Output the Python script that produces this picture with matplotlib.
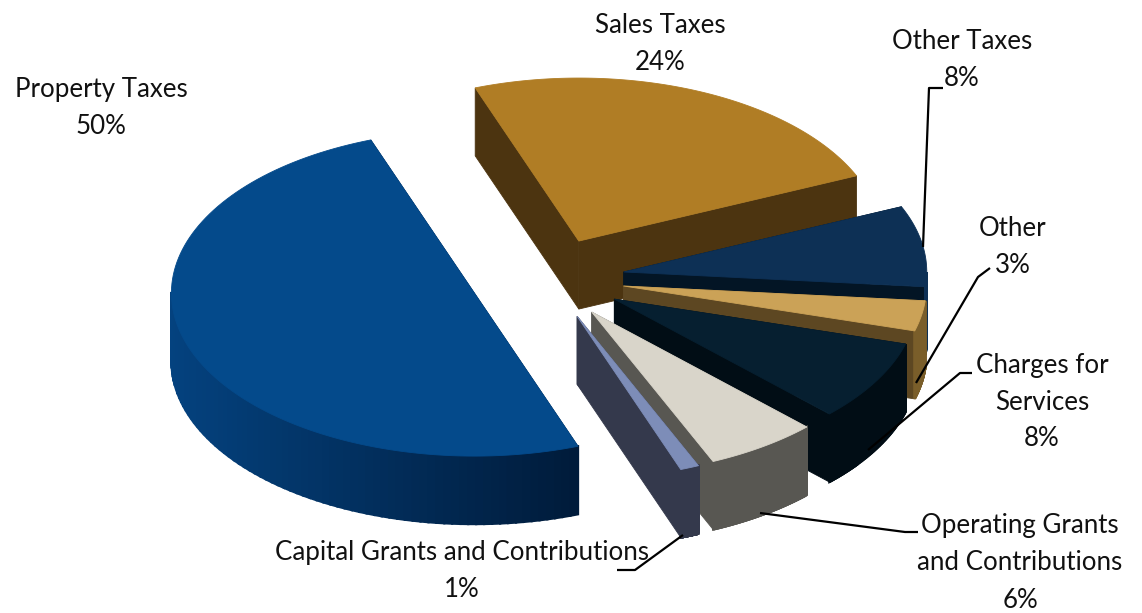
import matplotlib
matplotlib.use('Agg')
import matplotlib.pyplot as plt
from matplotlib.colors import to_rgb
from matplotlib.patches import Polygon
import numpy as np

# chart data
categories = ['Property Taxes', 'Sales Taxes', 'Other Taxes', 'Other',
              'Charges for\nServices', 'Operating Grants\nand Contributions',
              'Capital Grants and Contributions']
values = [50, 24, 8, 3, 8, 6, 1]

# colours: top face, cut face, rim at the left and at the right
top_colors = ['#044A8B', '#B07D25', '#0D3055', '#CBA257', '#061F30', '#D9D5CA', '#7D8DB8']
cut_colors = ['#001D3D', '#4C3410', '#031525', '#5D4722', '#010D15', '#585752', '#34394C']
rim_left = ['#04427F', '#4C3410', '#031525', '#7A5E2A', '#010D15', '#585752', '#34394C']
rim_right = ['#001B3A', '#4C3410', '#0D3055', '#7A5E2A', '#010D15', '#585752', '#34394C']

# pie layout, in pixels
cx, cy = 549, 278.5
rx, ry = 303, 163
explode = [0.262, 0.25, 0.25, 0.25, 0.25, 0.25, 0.25]
depth = 68
start_angle = 110

# label centres, in pixels
label_pos = [(101, 108), (660, 44), (962, 60), (1013, 247), (1042, 402), (1020, 563), (462, 571)]
leaders = [
    ([923, 929, 943], [247, 88, 88]),
    ([916, 978, 990], [383, 277, 268]),
    ([868, 960, 972], [450, 373, 373]),
    ([760, 905, 918], [513, 532, 532]),
    ([683, 635, 617], [535, 570, 570]),
]


def ellipse_points(x0, y0, angles):
    rad = np.radians(angles)
    return np.column_stack([x0 + rx * np.cos(rad), y0 - ry * np.sin(rad)])


def draw_poly(ax, pts, color, zorder, lw=0.6):
    ax.add_patch(Polygon(pts, closed=True, facecolor=color, edgecolor=color, lw=lw, zorder=zorder))


def draw_slice(ax, a0, a1, i, zorder):
    mid = np.radians((a0 + a1) / 2)
    x0 = cx + explode[i] * rx * np.cos(mid)
    y0 = cy - explode[i] * ry * np.sin(mid)
    angles = np.linspace(a0, a1, 120)
    edge = ellipse_points(x0, y0, angles)
    down = np.array([0, depth])
    apex = np.array([x0, y0])

    # the two cut faces first, then the rim, then the top
    for p in (edge[0], edge[-1]):
        draw_poly(ax, [apex, p, p + down, apex + down], cut_colors[i], zorder)

    left, right = np.array(to_rgb(rim_left[i])), np.array(to_rgb(rim_right[i]))
    xmin, xmax = cx - rx * 1.25, cx + rx * 1.25
    if i == 0:
        xmax = edge[-1, 0]
        xmin = edge[:, 0].min()
    for k in range(len(angles) - 1):
        if np.sin(np.radians((angles[k] + angles[k + 1]) / 2)) > 0:
            continue
        p, q = edge[k], edge[k + 1]
        f = np.clip(((p[0] + q[0]) / 2 - xmin) / (xmax - xmin), 0, 1)
        draw_poly(ax, [p, q, q + down, p + down], left + (right - left) * f, zorder, lw=1.6)

    draw_poly(ax, np.vstack([apex, edge]), top_colors[i], zorder)


def main() -> None:
    fig = plt.figure(figsize=(11.42, 6.13), dpi=100)
    ax = fig.add_axes([0, 0, 1, 1])
    ax.set_xlim(0, 1142)
    ax.set_ylim(613, 0)
    ax.axis('off')

    shares = np.array(values) / sum(values) * 360
    # Property Taxes runs counter-clockwise from the start angle, the rest clockwise
    bounds = [(start_angle, start_angle + shares[0])]
    a = start_angle
    for s in shares[1:]:
        bounds.append((a, a - s))
        a -= s

    for i, (a0, a1) in enumerate(bounds):
        draw_slice(ax, a0, a1, i, zorder=2 + i)

    for xs, ys in leaders:
        ax.plot(xs, ys, color='black', lw=1.6, zorder=20, solid_capstyle='butt')

    for name, val, (x, y) in zip(categories, values, label_pos):
        ax.text(x, y, f'{name}\n{val}%', ha='center', va='center', fontsize=18.6,
                family='Lato', linespacing=1.6, color='#111111', zorder=21)

    fig.savefig('out.png', dpi=100, facecolor='white')


if __name__ == "__main__":
    main()
